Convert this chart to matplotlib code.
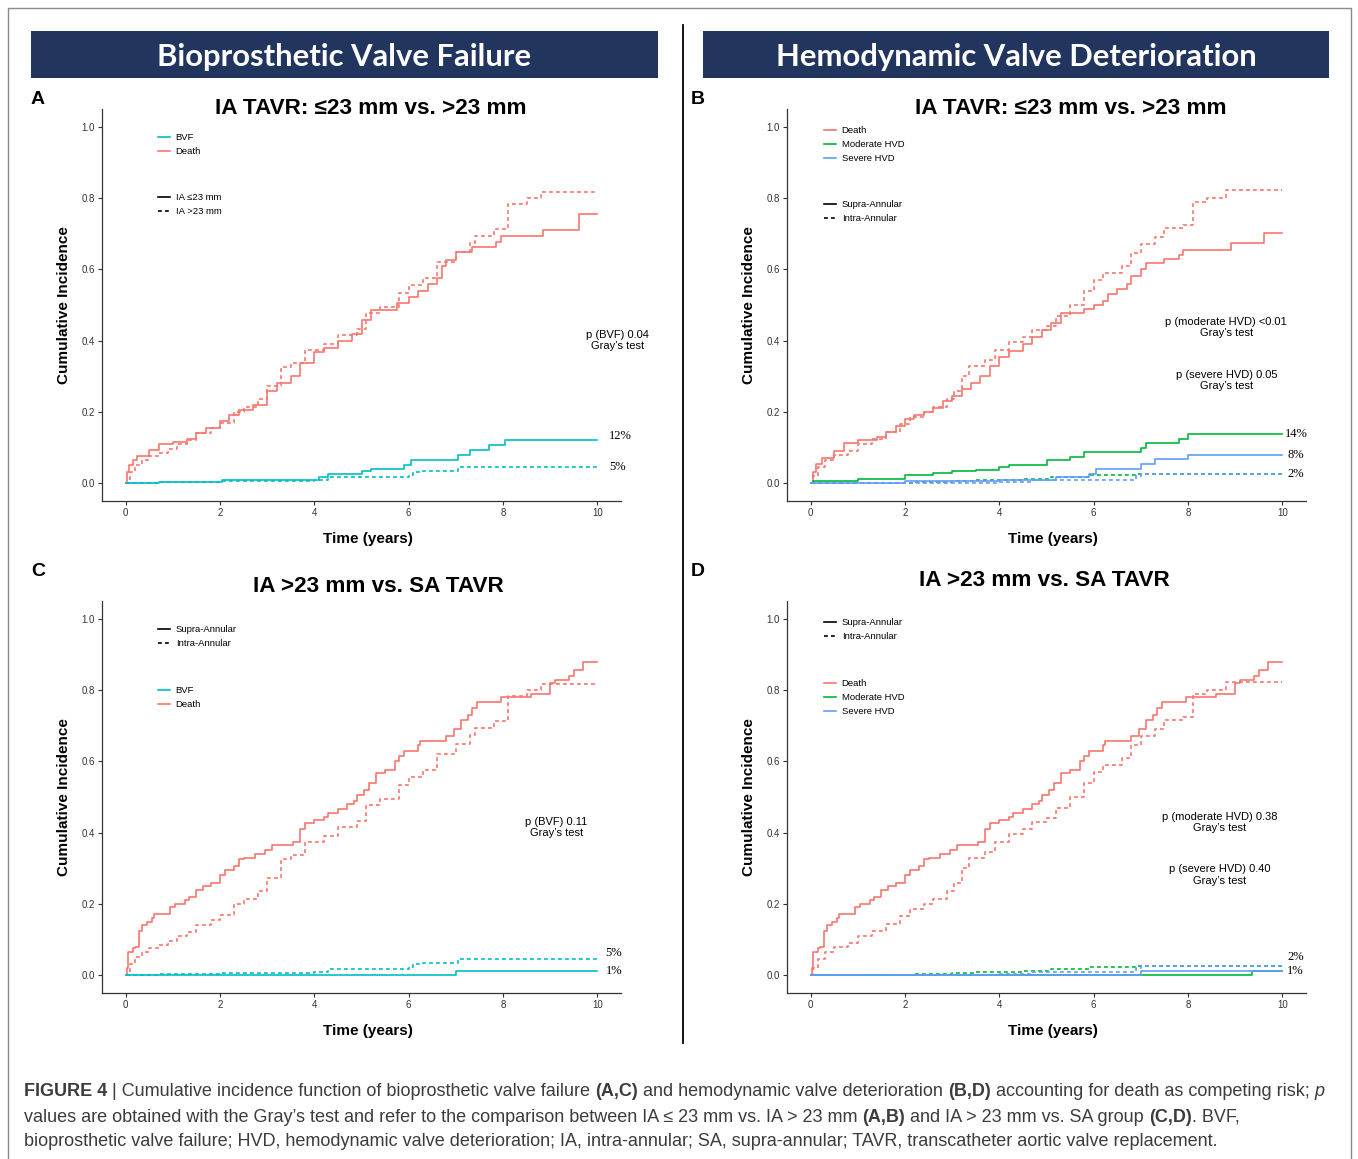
import matplotlib.pyplot as plt
from matplotlib.lines import Line2D
from matplotlib.legend import Legend
from matplotlib.patches import Rectangle
from matplotlib import font_manager
from matplotlib.transforms import IdentityTransform

# ---- data ----
x_ticks = [0, 2, 4, 6, 8, 10]
y_ticks = [0.0, 0.2, 0.4, 0.6, 0.8, 1.0]

# death, IA <=23 mm (BVF analysis, panel A solid)
death_le23_t = [0, 0.03, 0.08, 0.15, 0.25, 0.5, 0.7, 1.0, 1.3, 1.5, 1.7, 2.0, 2.2, 2.4, 2.7, 3.0,
                3.2, 3.5, 3.7, 4.0, 4.2, 4.5, 4.8, 5.0, 5.2, 5.75, 6.0, 6.2, 6.4, 6.6, 6.7, 6.8,
                7.0, 7.35, 7.85, 7.95, 8.85, 9.6, 10]
death_le23_y = [0, 0.03, 0.05, 0.065, 0.076, 0.093, 0.11, 0.115, 0.125, 0.14, 0.155, 0.175, 0.19,
                0.205, 0.22, 0.26, 0.28, 0.30, 0.338, 0.369, 0.38, 0.40, 0.42, 0.458, 0.486, 0.505,
                0.523, 0.54, 0.56, 0.575, 0.61, 0.626, 0.648, 0.664, 0.678, 0.695, 0.711, 0.754, 0.754]

# death, IA >23 mm (BVF analysis, panels A and C dashed)
death_gt23_t = [0, 0.1, 0.2, 0.35, 0.5, 0.7, 0.9, 1.1, 1.3, 1.5, 1.8, 2.0, 2.3, 2.5, 2.8, 3.0,
                3.3, 3.5, 3.8, 4.2, 4.5, 4.9, 5.1, 5.4, 5.8, 6.0, 6.3, 6.6, 7.0, 7.3, 7.4, 7.8,
                8.1, 8.5, 8.8, 10]
death_gt23_y = [0, 0.03, 0.05, 0.065, 0.075, 0.085, 0.095, 0.11, 0.12, 0.14, 0.155, 0.17, 0.20,
                0.215, 0.235, 0.272, 0.327, 0.338, 0.373, 0.39, 0.415, 0.434, 0.477, 0.495, 0.533,
                0.556, 0.575, 0.62, 0.65, 0.673, 0.694, 0.714, 0.784, 0.80, 0.816, 0.816]

# death, supra-annular (panels C and D solid)
death_sa_t = [0, 0.03, 0.05, 0.15, 0.2, 0.28, 0.35, 0.45, 0.55, 0.6, 0.95, 1.05, 1.25, 1.35, 1.5,
              1.65, 1.8, 2.0, 2.1, 2.3, 2.4, 2.5, 2.75, 2.95, 3.1, 3.55, 3.7, 3.8, 4.0, 4.2, 4.3,
              4.5, 4.7, 4.85, 4.9, 5.05, 5.15, 5.3, 5.5, 5.7, 5.8, 5.9, 6.2, 6.25, 6.8, 6.95,
              7.1, 7.25, 7.35, 7.45, 7.95, 8.6, 9.0, 9.1, 9.4, 9.5, 9.7, 10]
death_sa_y = [0, 0.02, 0.065, 0.075, 0.08, 0.123, 0.14, 0.15, 0.16, 0.171, 0.19, 0.20, 0.21, 0.22,
              0.24, 0.25, 0.26, 0.28, 0.295, 0.305, 0.325, 0.33, 0.34, 0.35, 0.366, 0.375, 0.41,
              0.426, 0.435, 0.445, 0.455, 0.465, 0.48, 0.49, 0.505, 0.52, 0.54, 0.566, 0.575,
              0.60, 0.615, 0.63, 0.645, 0.656, 0.67, 0.69, 0.715, 0.73, 0.75, 0.766, 0.78, 0.79,
              0.82, 0.829, 0.84, 0.855, 0.878, 0.878]

# death, HVD analysis: IA <=23 mm (panel B solid)
death_hvd_le23_t = [0, 0.05, 0.12, 0.25, 0.5, 0.7, 1.0, 1.4, 1.6, 1.8, 2.0, 2.2, 2.4, 2.6, 2.8,
                    3.0, 3.2, 3.4, 3.6, 3.8, 4.0, 4.2, 4.5, 4.7, 4.9, 5.1, 5.3, 5.8, 6.0, 6.2,
                    6.3, 6.5, 6.7, 6.8, 7.0, 7.1, 7.5, 7.8, 7.9, 8.9, 9.6, 10]
death_hvd_le23_y = [0, 0.03, 0.055, 0.072, 0.09, 0.113, 0.12, 0.13, 0.145, 0.16, 0.18, 0.19, 0.20,
                    0.21, 0.23, 0.245, 0.265, 0.28, 0.30, 0.33, 0.355, 0.37, 0.39, 0.41, 0.43,
                    0.45, 0.477, 0.49, 0.50, 0.51, 0.53, 0.545, 0.56, 0.58, 0.60, 0.617, 0.63,
                    0.64, 0.654, 0.673, 0.701, 0.701]

# death, HVD analysis: intra-annular (panels B and D dashed)
death_hvd_ia_t = [0, 0.05, 0.15, 0.3, 0.5, 0.8, 1.0, 1.3, 1.6, 1.9, 2.1, 2.4, 2.6, 2.9, 3.05, 3.2,
                  3.35, 3.7, 3.9, 4.2, 4.5, 4.7, 5.0, 5.2, 5.5, 5.8, 6.0, 6.2, 6.6, 6.8, 7.0, 7.3,
                  7.5, 7.9, 8.1, 8.4, 8.8, 10]
death_hvd_ia_y = [0, 0.02, 0.045, 0.065, 0.08, 0.09, 0.11, 0.125, 0.145, 0.165, 0.185, 0.20, 0.215,
                  0.235, 0.26, 0.30, 0.33, 0.345, 0.375, 0.395, 0.41, 0.43, 0.44, 0.47, 0.50,
                  0.54, 0.57, 0.59, 0.61, 0.645, 0.67, 0.69, 0.715, 0.725, 0.79, 0.80, 0.823, 0.823]

# bioprosthetic valve failure
bvf_le23_t = [0, 0.7, 2.05, 4.1, 4.3, 5.0, 5.2, 5.9, 6.05, 7.05, 7.3, 7.7, 8.05, 10]
bvf_le23_y = [0, 0.004, 0.01, 0.016, 0.027, 0.034, 0.04, 0.05, 0.065, 0.08, 0.093, 0.107, 0.122, 0.122]
bvf_gt23_t = [0, 0.7, 2.0, 4.0, 4.3, 5.0, 6.0, 6.1, 6.3, 7.05, 10]
bvf_gt23_y = [0, 0.003, 0.006, 0.01, 0.016, 0.018, 0.022, 0.03, 0.035, 0.046, 0.046]
bvf_sa_t = [0, 7.0, 10]
bvf_sa_y = [0, 0.012, 0.012]

# hemodynamic valve deterioration
mod_le23_t = [0, 0.05, 1.0, 2.0, 2.6, 3.0, 3.5, 4.0, 4.2, 5.0, 5.5, 5.8, 7.0, 7.1, 7.8, 8.0, 10]
mod_le23_y = [0, 0.005, 0.012, 0.022, 0.028, 0.033, 0.038, 0.045, 0.05, 0.066, 0.073, 0.088,
              0.10, 0.112, 0.125, 0.138, 0.138]
sev_le23_t = [0, 2.0, 4.0, 5.2, 5.9, 6.05, 7.0, 7.3, 8.0, 10]
sev_le23_y = [0, 0.005, 0.01, 0.018, 0.025, 0.041, 0.055, 0.069, 0.08, 0.08]
mod_ia_t = [0, 2.2, 3.0, 3.5, 4.0, 4.5, 5.1, 5.9, 6.9, 10]
mod_ia_y = [0, 0.004, 0.006, 0.008, 0.01, 0.012, 0.018, 0.023, 0.025, 0.025]
sev_ia_t = [0, 4.0, 4.7, 5.2, 6.9, 7.0, 10]
sev_ia_y = [0, 0.004, 0.008, 0.01, 0.02, 0.025, 0.025]
mod_sa_t = [0, 9.35, 10]
mod_sa_y = [0, 0.012, 0.012]
sev_sa_t = [0, 7.0, 10]
sev_sa_y = [0, 0.012, 0.012]

# ---- style ----
W, H = 1358, 1159
RED, TEAL, GREEN, BLUE = '#F8766D', '#00BFC4', '#00BA38', '#619CFF'
NAVY = '#22355F'
LW = 1.2
DASH = (2.3, 1.9)

names = {f.name for f in font_manager.fontManager.ttflist}
NARROW = 'Liberation Sans Narrow' if 'Liberation Sans Narrow' in names else 'Liberation Sans'
plt.rcParams['font.family'] = ['Liberation Sans', 'DejaVu Sans']

fig = plt.figure(figsize=(W / 100, H / 100), dpi=100)


def fx(x):
    return x / W


def fy(y):
    return 1 - y / H


def make_axes(left, top, right, bottom):
    ax = fig.add_axes([fx(left), fy(bottom), (right - left) / W, (bottom - top) / H])
    ax.set_xlim(-0.5, 10.5)
    ax.set_ylim(-0.05, 1.05)
    ax.set_xticks(x_ticks)
    ax.set_yticks(y_ticks)
    ax.set_yticklabels([f'{v:.1f}' for v in y_ticks])
    for s in ['top', 'right']:
        ax.spines[s].set_visible(False)
    for s in ['left', 'bottom']:
        ax.spines[s].set_color('#333333')
        ax.spines[s].set_linewidth(0.9)
    ax.tick_params(length=3, width=0.8, color='#333333', labelsize=7, labelcolor='#333333', pad=2)
    for lab in ax.get_xticklabels() + ax.get_yticklabels():
        lab.set_family(NARROW)
    ax.set_xlabel('Time (years)', fontsize=11, fontweight='bold')
    ax.xaxis.set_label_coords(0.513, -0.097)
    ax.xaxis.label.set_va('center')
    ax.set_ylabel('Cumulative Incidence', fontsize=11, fontweight='bold')
    ax.yaxis.set_label_coords(-0.074, 0.5)
    ax.yaxis.label.set_va('center')
    return ax


def step(ax, t, y, color, dashed=False):
    line, = ax.plot(t, y, drawstyle='steps-post', color=color, lw=LW)
    if dashed:
        line.set_dashes(DASH)
    return line


def legend(ax, labels, colors, styles, x, y):
    handles = []
    for c, s in zip(colors, styles):
        h = Line2D([], [], color=c, lw=LW)
        if s == 'dashed':
            h.set_dashes(DASH)
        handles.append(h)
    leg = Legend(ax, handles, labels, loc='upper left', bbox_to_anchor=(fx(x), fy(y)),
                 bbox_transform=fig.transFigure, frameon=False, fontsize=6.8,
                 handlelength=1.27, handletextpad=0.6, labelspacing=0.55,
                 borderpad=0, borderaxespad=0)
    for t in leg.get_texts():
        t.set_family(NARROW)
    ax.add_artist(leg)


def pct(ax, x, y, s):
    ax.text(x, y, s, family='Liberation Serif', fontsize=9, va='center', ha='left')


def ptext(ax, x, y, s):
    ax.text(x, y, s, family=NARROW, fontsize=8, ha='center', va='center',
            multialignment='center', linespacing=1.15)


# ---- frame, banners, divider ----
fig.add_artist(Rectangle((fx(8), fy(1175)), (1351 - 8) / W, (1175 - 8) / H, transform=fig.transFigure,
                         fill=False, edgecolor='#8a8a8a', lw=1))
for left, right, text in [(31, 658, 'Bioprosthetic Valve Failure'),
                          (703, 1329, 'Hemodynamic Valve Deterioration')]:
    fig.add_artist(Rectangle((fx(left), fy(78)), (right - left) / W, 47 / H, transform=fig.transFigure,
                             facecolor=NAVY, edgecolor='none'))
    fig.text(fx((left + right) / 2), fy(57), text, color='white', fontsize=22.3, fontweight='bold',
             family='Lato', ha='center', va='center')
fig.add_artist(Line2D([fx(683), fx(683)], [fy(25), fy(1043)], color='black', lw=1.3,
                      transform=fig.transFigure))

# ---- panel titles / letters ----
for x, y, s in [(371, 109, 'IA TAVR: ≤23 mm vs. >23 mm'), (1071, 109, 'IA TAVR: ≤23 mm vs. >23 mm'),
                (378, 587, 'IA >23 mm vs. SA TAVR'), (1044, 580, 'IA >23 mm vs. SA TAVR')]:
    fig.text(fx(x), fy(y), s, fontsize=16.2, fontweight='bold', ha='center', va='center')
for x, y, s in [(38, 100, 'A'), (698, 100, 'B'), (38, 572, 'C'), (698, 571, 'D')]:
    fig.text(fx(x), fy(y), s, fontsize=14, fontweight='bold', ha='center', va='center')

# ---- panel A ----
ax = make_axes(102, 109, 621, 501)
step(ax, death_le23_t, death_le23_y, RED)
step(ax, death_gt23_t, death_gt23_y, RED, dashed=True)
step(ax, bvf_le23_t, bvf_le23_y, TEAL)
step(ax, bvf_gt23_t, bvf_gt23_y, TEAL, dashed=True)
legend(ax, ['BVF', 'Death'], [TEAL, RED], ['solid', 'solid'], 158, 133)
legend(ax, ['IA ≤23 mm', 'IA >23 mm'], ['black', 'black'], ['solid', 'dashed'], 158, 193)
pct(ax, 10.25, bvf_le23_y[-1] + 0.01, '12%')
pct(ax, 10.25, bvf_gt23_y[-1], '5%')
ptext(ax, 10.42, 0.40, 'p (BVF) 0.04\nGray’s test')

# ---- panel B ----
ax = make_axes(787, 109, 1306, 501)
step(ax, death_hvd_le23_t, death_hvd_le23_y, RED)
step(ax, death_hvd_ia_t, death_hvd_ia_y, RED, dashed=True)
step(ax, mod_le23_t, mod_le23_y, GREEN)
step(ax, mod_ia_t, mod_ia_y, GREEN, dashed=True)
step(ax, sev_le23_t, sev_le23_y, BLUE)
step(ax, sev_ia_t, sev_ia_y, BLUE, dashed=True)
legend(ax, ['Death', 'Moderate HVD', 'Severe HVD'], [RED, GREEN, BLUE], ['solid'] * 3, 824, 126)
legend(ax, ['Supra-Annular', 'Intra-Annular'], ['black', 'black'], ['solid', 'dashed'], 824, 200)
pct(ax, 10.06, mod_le23_y[-1], '14%')
pct(ax, 10.1, sev_le23_y[-1], '8%')
pct(ax, 10.1, sev_ia_y[-1], '2%')
ptext(ax, 8.81, 0.437, 'p (moderate HVD) <0.01\nGray’s test')
ptext(ax, 8.81, 0.289, 'p (severe HVD) 0.05\nGray’s test')

# ---- panel C ----
ax = make_axes(102, 601, 621, 993)
step(ax, death_sa_t, death_sa_y, RED)
step(ax, death_gt23_t, death_gt23_y, RED, dashed=True)
step(ax, bvf_sa_t, bvf_sa_y, TEAL)
step(ax, bvf_gt23_t, bvf_gt23_y, TEAL, dashed=True)
legend(ax, ['Supra-Annular', 'Intra-Annular'], ['black', 'black'], ['solid', 'dashed'], 158, 625)
legend(ax, ['BVF', 'Death'], [TEAL, RED], ['solid', 'solid'], 158, 686)
pct(ax, 10.17, bvf_gt23_y[-1] + 0.016, '5%')
pct(ax, 10.17, bvf_sa_y[-1], '1%')
ptext(ax, 9.13, 0.415, 'p (BVF) 0.11\nGray’s test')

# ---- panel D ----
ax = make_axes(787, 601, 1306, 993)
step(ax, death_sa_t, death_sa_y, RED)
step(ax, death_hvd_ia_t, death_hvd_ia_y, RED, dashed=True)
step(ax, mod_sa_t, mod_sa_y, GREEN)
step(ax, mod_ia_t, mod_ia_y, GREEN, dashed=True)
step(ax, sev_sa_t, sev_sa_y, BLUE)
step(ax, sev_ia_t, sev_ia_y, BLUE, dashed=True)
legend(ax, ['Supra-Annular', 'Intra-Annular'], ['black', 'black'], ['solid', 'dashed'], 824, 618)
legend(ax, ['Death', 'Moderate HVD', 'Severe HVD'], [RED, GREEN, BLUE], ['solid'] * 3, 824, 679)
pct(ax, 10.1, sev_ia_y[-1] + 0.025, '2%')
pct(ax, 10.1, sev_sa_y[-1], '1%')
ptext(ax, 8.67, 0.429, 'p (moderate HVD) 0.38\nGray’s test')
ptext(ax, 8.67, 0.281, 'p (severe HVD) 0.40\nGray’s test')

# ---- caption (mixed bold / italic runs) ----
caption = [
    [('FIGURE 4', 'bold', 'normal'),
     (' | Cumulative incidence function of bioprosthetic valve failure ', 'normal', 'normal'),
     ('(A,C)', 'bold', 'normal'),
     (' and hemodynamic valve deterioration ', 'normal', 'normal'),
     ('(B,D)', 'bold', 'normal'),
     (' accounting for death as competing risk; ', 'normal', 'normal'),
     ('p', 'normal', 'italic')],
    [('values are obtained with the Gray’s test and refer to the comparison between IA ≤ 23 mm vs. IA > 23 mm ',
      'normal', 'normal'),
     ('(A,B)', 'bold', 'normal'),
     (' and IA > 23 mm vs. SA group ', 'normal', 'normal'),
     ('(C,D)', 'bold', 'normal'),
     ('. BVF,', 'normal', 'normal')],
    [('bioprosthetic valve failure; HVD, hemodynamic valve deterioration; IA, intra-annular; '
      'SA, supra-annular; TAVR, transcatheter aortic valve replacement.', 'normal', 'normal')],
]
renderer = fig.canvas.get_renderer()
for row, y in zip(caption, [1091, 1117, 1142]):
    x = 24
    for text, weight, style in row:
        t = fig.text(x, H - y, text, transform=IdentityTransform(), fontsize=13,
                     fontweight=weight, style=style, color='#3c3c3c', va='center', ha='left')
        x = t.get_window_extent(renderer).x1

fig.savefig('out.png', dpi=100, facecolor='white')
